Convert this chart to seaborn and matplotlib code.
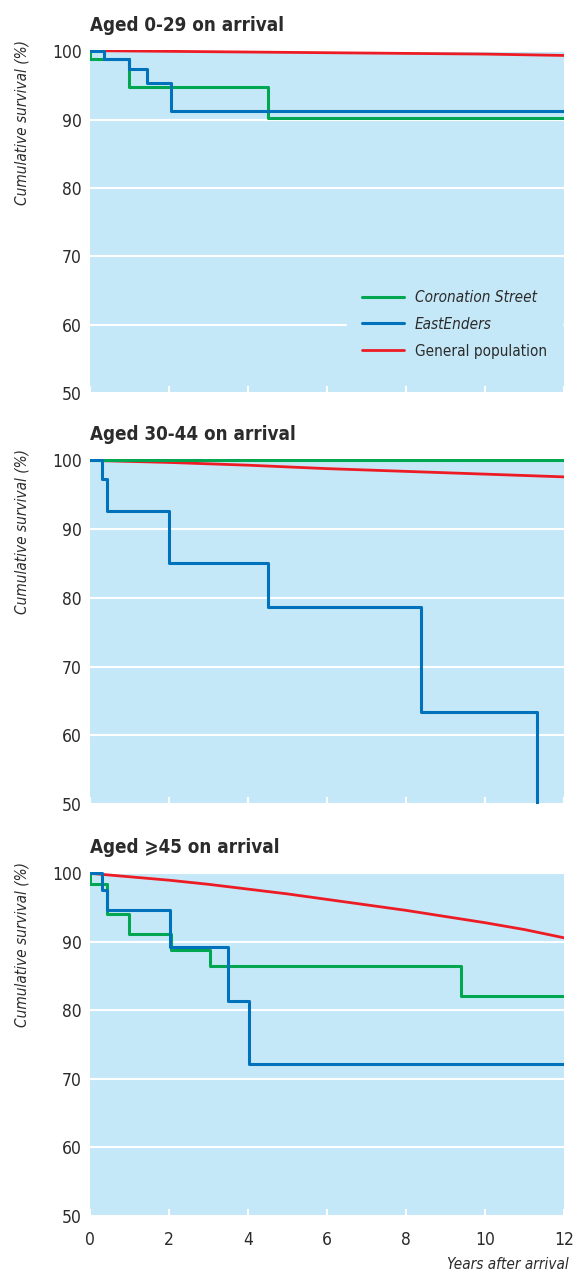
import numpy as np
import pandas as pd
import seaborn as sns
import matplotlib.pyplot as plt

# survival (%) by years after arrival
young_corrie_t = [0, 0, 1.0, 4.5, 12]
young_corrie_s = [100, 98.9, 94.8, 90.2, 90.2]
young_ee_t = [0, 0.35, 1.0, 1.45, 2.05, 12]
young_ee_s = [100, 98.9, 97.4, 95.4, 91.3, 91.3]
young_pop_t = [0, 2, 4, 6, 8, 10, 12]
young_pop_s = [100.1, 100.0, 99.9, 99.8, 99.7, 99.6, 99.4]

mid_corrie_t = [0, 12]
mid_corrie_s = [100, 100]
mid_ee_t = [0, 0.3, 0.43, 2.0, 4.5, 8.38, 11.33]
mid_ee_s = [100, 97.3, 92.7, 85.0, 78.6, 63.4, 0]
mid_pop_t = [0, 2, 4, 6, 8, 10, 12]
mid_pop_s = [100, 99.7, 99.3, 98.8, 98.4, 98.0, 97.6]

old_corrie_t = [0, 0, 0.43, 1.0, 2.04, 3.05, 9.4, 12]
old_corrie_s = [100, 98.5, 94.0, 91.1, 88.8, 86.5, 82.1, 82.1]
old_ee_t = [0, 0.3, 0.43, 2.02, 3.5, 4.03, 12]
old_ee_s = [100, 97.5, 94.6, 89.3, 81.4, 72.2, 72.2]
old_pop_t = [0, 1, 2, 3, 4, 5, 6, 7, 8, 9, 10, 11, 12]
old_pop_s = [100, 99.5, 99.0, 98.4, 97.7, 97.0, 96.2, 95.4, 94.6, 93.7, 92.8, 91.8, 90.6]

titles = ["Aged 0-29 on arrival", "Aged 30-44 on arrival", "Aged \u2a7e45 on arrival"]
series_names = ["Coronation Street", "EastEnders", "General population"]
x_ticks = [0, 2, 4, 6, 8, 10, 12]
y_ticks = [50, 60, 70, 80, 90, 100]

BG = "#c5e8f8"
GREEN = "#00a650"
BLUE = "#0072bc"
RED = "#ed1c24"
TXT = "#2b2b2b"

sns.set_theme(style="whitegrid", rc={
    "axes.facecolor": BG,
    "grid.color": "white",
    "grid.linewidth": 1.5,
    "axes.edgecolor": BG,
    "text.color": TXT,
    "xtick.color": TXT,
    "ytick.color": TXT,
})
plt.rcParams["font.family"] = ["DejaVu Sans"]
plt.rcParams["font.stretch"] = "condensed"

panels = [
    (young_corrie_t, young_corrie_s, young_ee_t, young_ee_s, young_pop_t, young_pop_s),
    (mid_corrie_t, mid_corrie_s, mid_ee_t, mid_ee_s, mid_pop_t, mid_pop_s),
    (old_corrie_t, old_corrie_s, old_ee_t, old_ee_s, old_pop_t, old_pop_s),
]

fig = plt.figure(figsize=(5.73, 12.75), dpi=100)
rects = [
    [0.157, 0.6918, 0.827, 0.269],
    [0.157, 0.3694, 0.827, 0.2706],
    [0.157, 0.0463, 0.827, 0.2698],
]

for i, (ct, cs, et, es, pt, ps) in enumerate(panels):
    ax = fig.add_axes(rects[i])
    pop = pd.DataFrame({"years": pt, "survival": ps})
    corrie = pd.DataFrame({"years": ct, "survival": cs})
    ee = pd.DataFrame({"years": et, "survival": es})
    sns.lineplot(data=pop, x="years", y="survival", color=RED, lw=2,
                 estimator=None, sort=False, label=series_names[2], ax=ax)
    sns.lineplot(data=corrie, x="years", y="survival", color=GREEN, lw=2.2,
                 estimator=None, sort=False, drawstyle="steps-post",
                 label=series_names[0], ax=ax)
    sns.lineplot(data=ee, x="years", y="survival", color=BLUE, lw=2.2,
                 estimator=None, sort=False, drawstyle="steps-post",
                 label=series_names[1], ax=ax)

    ax.set_xlim(0, 12)
    ax.set_ylim(50, 100.2)
    ax.set_xticks(x_ticks)
    ax.set_yticks(y_ticks)
    ax.grid(axis="x", visible=False)
    ax.grid(axis="y", color="white", lw=1.5)
    for s in ax.spines.values():
        s.set_visible(False)
    ax.tick_params(axis="y", left=False, length=0, pad=6, labelsize=12.5)
    ax.tick_params(axis="x", bottom=True, direction="in", length=5, width=1.5,
                   color="white", pad=11, labelsize=12.5,
                   labelbottom=(i == 2))
    ax.set_xlabel("")
    ax.set_ylabel("")
    ax.set_title(titles[i], loc="left", fontsize=13.5, fontweight="bold",
                 pad=14, color=TXT)
    ax.text(-0.143, 1.03, "Cumulative survival (%)", transform=ax.transAxes,
            rotation=90, va="top", ha="center", fontsize=11,
            style="italic", color=TXT)

    if i == 0:
        h, l = ax.get_legend_handles_labels()
        order = [l.index(n) for n in series_names]
        leg = ax.legend([h[k] for k in order], [l[k] for k in order],
                        loc="upper left", bbox_to_anchor=(0.542, 0.345),
                        borderaxespad=0,
                        frameon=True, facecolor=BG, edgecolor=BG,
                        framealpha=1, fancybox=False, fontsize=11,
                        handlelength=2.75, handletextpad=0.72,
                        labelspacing=0.78, borderpad=1.0)
        leg.get_texts()[0].set_fontstyle("italic")
        leg.get_texts()[1].set_fontstyle("italic")
    else:
        ax.get_legend().remove()
    if i == 2:
        ax.text(1.01, -0.14, "Years after arrival", transform=ax.transAxes,
                ha="right", va="center", fontsize=11, style="italic",
                color=TXT)

fig.savefig("out.png", dpi=100)
